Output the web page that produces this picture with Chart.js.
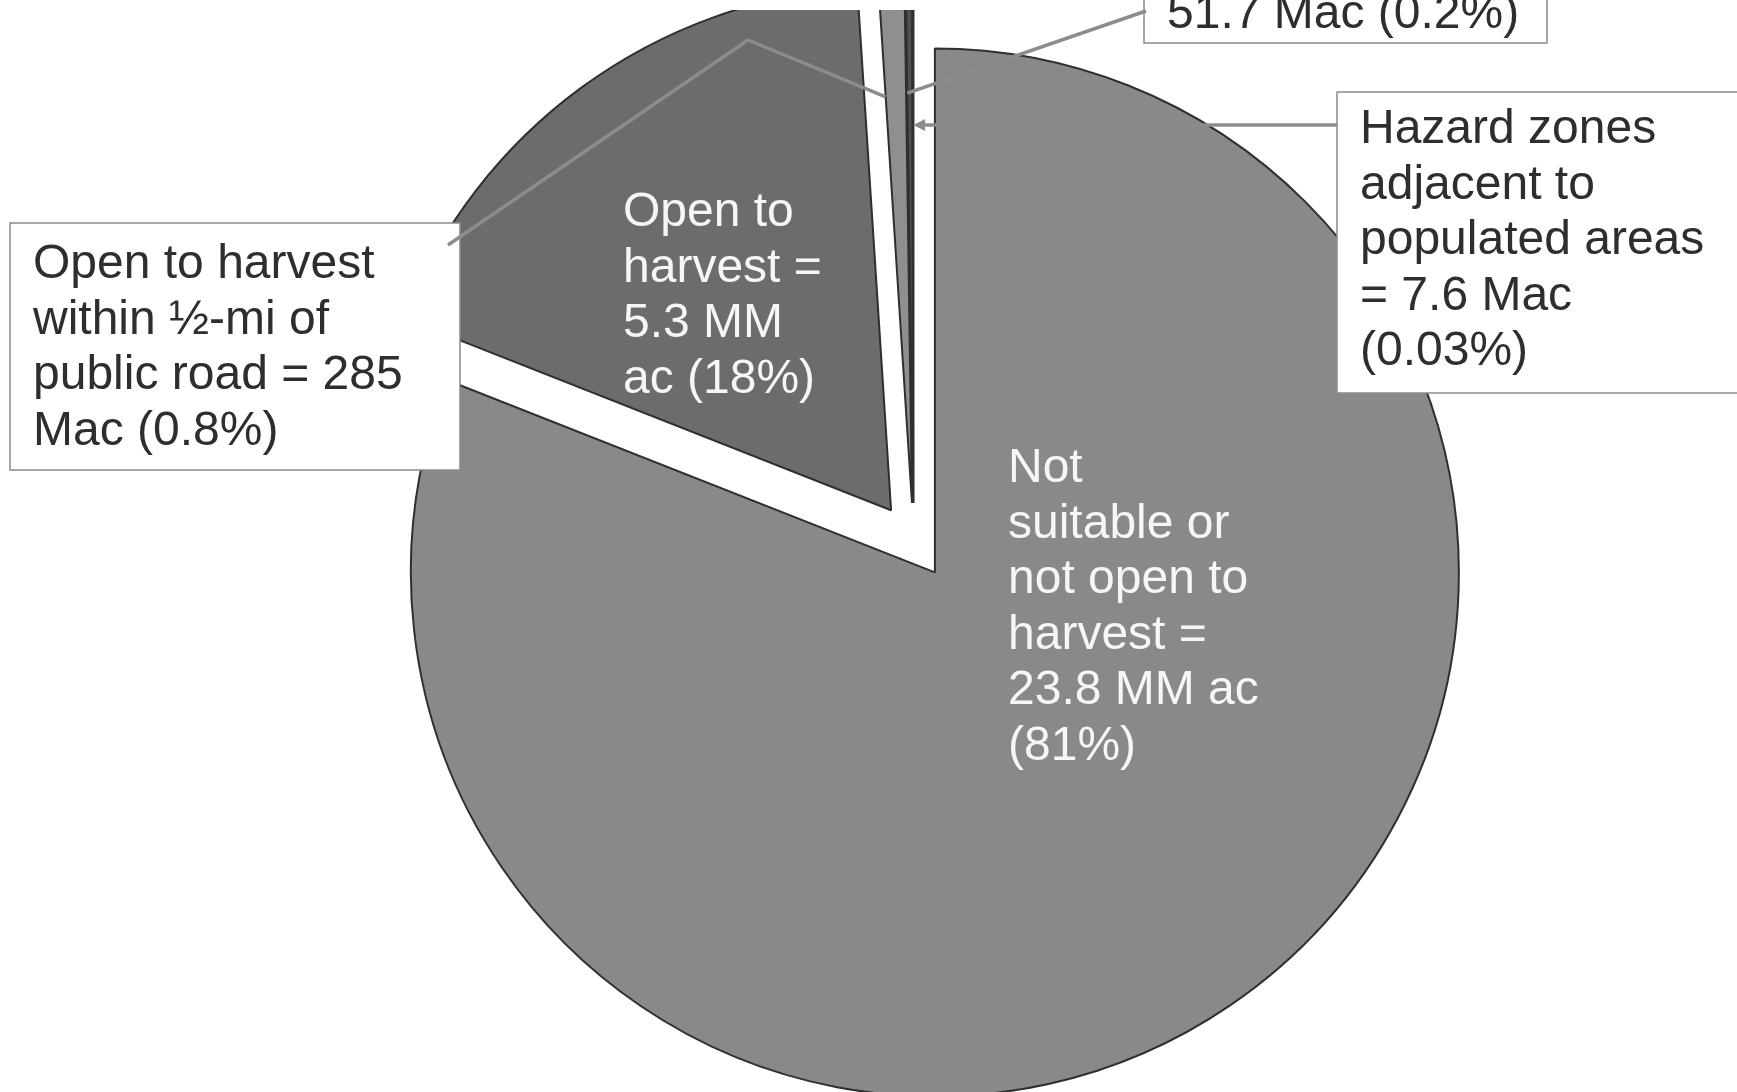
<!DOCTYPE html>
<html>
<head>
<meta charset="utf-8">
<script src="https://cdn.jsdelivr.net/npm/chart.js@4.4.1/dist/chart.umd.min.js"></script>
<style>
  html, body { margin: 0; padding: 0; background: #ffffff; overflow: hidden; }
  canvas { display: block; }
</style>
</head>
<body>
<canvas id="pie" width="1737" height="1092"></canvas>
<script>
// Area breakdown of the forest land base
const categories = [
  'Not suitable or not open to harvest',
  'Open to harvest',
  'Open to harvest within ½-mi of public road',
  'Roadside subset (51.7 Mac)',
  'Hazard zones adjacent to populated areas'
];
// Share of total area, in percent
const shareValues = [81, 18, 0.8, 0.2, 0.03];
// Area as written in each label
const areaLabels = ['23.8 MM ac', '5.3 MM ac', '285 Mac', '51.7 Mac', '7.6 Mac'];

const pct = i => '(' + shareValues[i] + '%)';
const labelText = [
  ['Not', 'suitable or', 'not open to', 'harvest =', areaLabels[0], pct(0)],
  ['Open to', 'harvest =', '5.3 MM', 'ac ' + pct(1)],
  ['Open to harvest', 'within ½-mi of', 'public road = 285', 'Mac ' + pct(2)],
  [areaLabels[3] + ' ' + pct(3)],
  ['Hazard zones', 'adjacent to', 'populated areas', '= ' + areaLabels[4], pct(4)]
];

const PIE_RADIUS = 524;
const EXPLODE = 152;               // Chart.js moves a slice by offset / 4
const FONT = '48px "Liberation Sans", Arial, sans-serif';
const LINE_STEP = 55.5;

// Chart.js enlarges an offset slice's radius (by offset/4 scaled with its
// angular size) and trims its outer arc by that amount / PI. Undo both so
// every exploded slice keeps the same radius and its true angular width.
const explodedSlices = {
  id: 'explodedSlices',
  afterUpdate(chart) {
    chart.getDatasetMeta(0).data.forEach(arc => {
      const t = (arc.options.offset || 0) / 4;
      const fix = 1 - Math.sin(Math.min(Math.PI, arc.circumference));
      const ro = t * fix;
      const widen = ro / (2 * Math.PI * PIE_RADIUS);
      arc.trueStart = arc.startAngle;
      arc.trueEnd = arc.endAngle;
      arc.outerRadius = PIE_RADIUS - ro;
      arc.startAngle = arc.trueStart - widen;
      arc.endAngle = arc.trueEnd + widen;
    });
  }
};

// Point on a drawn slice: angle picked by 'start' / 'mid' / 'end', r in px from its tip
function slicePoint(arc, which, r) {
  const s = arc.trueStart, e = arc.trueEnd;
  const mid = (s + e) / 2;
  const t = (arc.options.offset || 0) / 4;
  const bx = arc.x + Math.cos(mid) * t;
  const by = arc.y + Math.sin(mid) * t;
  const a = which === 'start' ? s : which === 'end' ? e : mid;
  return { x: bx + Math.cos(a) * r, y: by + Math.sin(a) * r };
}

const callouts = [
  { slice: 0, x: 1008, y: 482, color: '#f6f6f6' },
  { slice: 1, x: 623, y: 226, color: '#f6f6f6' },
  { slice: 2, x: 33, y: 278, color: '#2e2e2e',
    box: [10, 223, 450, 247],
    leader: { from: [448, 245], via: [[748, 40]], which: 'start', r: 407 } },
  { slice: 3, x: 1167, y: 28, color: '#2e2e2e',
    box: [1144, -20, 403, 63],
    leader: { from: [1146, 11], via: [], which: 'start', r: 410 } },
  { slice: 4, x: 1360, y: 143, color: '#2e2e2e',
    box: [1337, 92, 420, 301],
    leader: { horizontalFrom: 1337, which: 'mid', r: 378, arrow: true } }
];

const calloutPlugin = {
  id: 'callouts',
  afterDraw(chart) {
    const ctx = chart.ctx;
    const arcs = chart.getDatasetMeta(0).data;
    ctx.save();
    // boxes
    callouts.forEach(c => {
      if (!c.box) return;
      const [x, y, w, h] = c.box;
      ctx.fillStyle = '#ffffff';
      ctx.fillRect(x, y, w, h);
      ctx.strokeStyle = '#8a8a8a';
      ctx.lineWidth = 1.5;
      ctx.strokeRect(x, y, w, h);
    });
    // leader lines
    ctx.strokeStyle = '#8c8c8c';
    ctx.fillStyle = '#8c8c8c';
    ctx.lineWidth = 3.5;
    ctx.lineCap = 'butt';
    ctx.lineJoin = 'round';
    callouts.forEach(c => {
      if (!c.leader) return;
      const L = c.leader;
      const p = slicePoint(arcs[c.slice], L.which, L.r);
      ctx.beginPath();
      if (L.horizontalFrom !== undefined) {
        const head = 12;
        ctx.moveTo(L.horizontalFrom, p.y);
        ctx.lineTo(p.x + head, p.y);
        ctx.stroke();
        ctx.beginPath();
        ctx.moveTo(p.x, p.y);
        ctx.lineTo(p.x + head, p.y - 6);
        ctx.lineTo(p.x + head, p.y + 6);
        ctx.closePath();
        ctx.fill();
      } else {
        ctx.moveTo(L.from[0], L.from[1]);
        L.via.forEach(v => ctx.lineTo(v[0], v[1]));
        ctx.lineTo(p.x, p.y);
        ctx.stroke();
      }
    });
    // label text
    ctx.font = FONT;
    ctx.textAlign = 'left';
    ctx.textBaseline = 'alphabetic';
    callouts.forEach(c => {
      ctx.fillStyle = c.color;
      labelText[c.slice].forEach((line, k) => {
        ctx.fillText(line, c.x, c.y + k * LINE_STEP);
      });
    });
    ctx.restore();
  }
};

new Chart(document.getElementById('pie'), {
  type: 'pie',
  data: {
    labels: categories,
    datasets: [{
      data: shareValues,
      backgroundColor: ['#898989', '#6c6c6c', '#8f8f8f', '#505050', '#3c3c3c'],
      borderColor: '#2f2f2f',
      borderWidth: 2,
      offset: EXPLODE,
      radius: PIE_RADIUS,
      clip: { left: false, right: false, top: 0, bottom: false }
    }]
  },
  options: {
    responsive: false,
    animation: false,
    events: [],
    devicePixelRatio: 1,
    layout: { padding: { left: 90, right: 0, top: 10, bottom: 20 } },
    plugins: {
      legend: { display: false },
      tooltip: { enabled: false },
      title: { display: false }
    }
  },
  plugins: [explodedSlices, calloutPlugin]
});
</script>
</body>
</html>
